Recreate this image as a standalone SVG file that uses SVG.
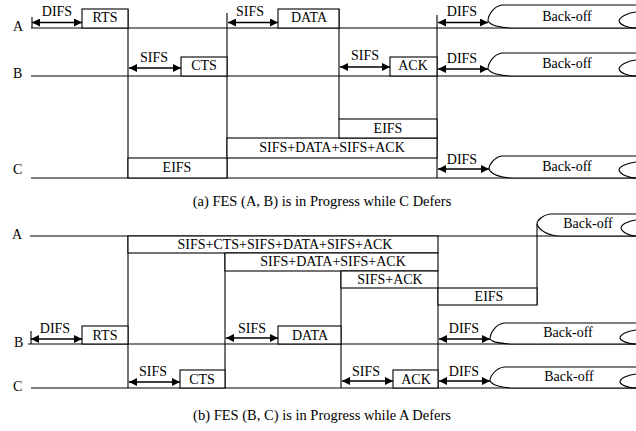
<svg xmlns="http://www.w3.org/2000/svg" width="636" height="431" viewBox="0 0 636 431" font-family="'Liberation Serif', 'DejaVu Serif', 'Times New Roman', serif" font-size="14">
<style>
.ln{stroke:#000;stroke-width:1.1;fill:none}
.box{fill:#fff;stroke:#000;stroke-width:1.1}
.bo{fill:#fff;stroke:#000;stroke-width:1.1}
.arr{stroke:#000;stroke-width:1.3;fill:none;marker-start:url(#ah);marker-end:url(#ah)}
text{font-family:'Liberation Serif','DejaVu Serif','Times New Roman',serif;font-size:14px;fill:#000}
.c{text-anchor:middle}
.cap{font-size:14.5px}
</style>
<defs>
<marker id="ah" viewBox="0 0 10 10" refX="10" refY="5" markerWidth="9" markerHeight="8" markerUnits="userSpaceOnUse" orient="auto-start-reverse">
<path d="M0,0 L10,5 L0,10 z" fill="#000"/>
</marker>
</defs>
<rect width="636" height="431" fill="#fff"/>

<!-- ===== (a) ===== -->
<g id="a-station-lines">
<line class="ln" x1="31" y1="28" x2="636" y2="28"/>
<line class="ln" x1="31" y1="76" x2="636" y2="76"/>
<line class="ln" x1="31" y1="178" x2="636" y2="178"/>
<text x="13" y="31">A</text>
<text x="13" y="78">B</text>
<text x="13" y="174">C</text>
</g>
<g id="a-boundaries">
<line class="ln" x1="128" y1="9" x2="128" y2="178"/>
<line class="ln" x1="227" y1="13" x2="227" y2="178"/>
<line class="ln" x1="339" y1="9" x2="339" y2="119"/>
<line class="ln" x1="437" y1="15" x2="437" y2="178"/>
<line class="ln" x1="32" y1="17" x2="32" y2="28"/>
</g>
<g id="a-rts"><rect class="box" x="82" y="9" width="46" height="19"/><text class="c" x="105" y="22">RTS</text></g>
<g id="a-cts"><rect class="box" x="181" y="57" width="46" height="19"/><text class="c" x="204" y="70">CTS</text></g>
<g id="a-data"><rect class="box" x="278" y="9" width="61" height="19"/><text class="c" x="309" y="22">DATA</text></g>
<g id="a-ack"><rect class="box" x="390" y="57" width="47" height="19"/><text class="c" x="413" y="70">ACK</text></g>
<g id="a-eifs-c"><rect class="box" x="128" y="158" width="99" height="20"/><text class="c" x="177" y="172">EIFS</text></g>
<g id="a-nav"><rect class="box" x="227" y="138" width="210" height="20"/><text class="c" x="332" y="152">SIFS+DATA+SIFS+ACK</text></g>
<g id="a-eifs-up"><rect class="box" x="339" y="119" width="98" height="19"/><text class="c" x="388" y="133">EIFS</text></g>
<g id="a-backoff-a">
<path class="bo" d="M636,5 L502,5 C494,6 488,15 488,21 C490,25 500,28 512,28 L636,28"/>
<path class="ln" d="M636,12 C626,13 619,18 619,21 C620,25 628,28 636,28"/>
<text class="c" x="567" y="21">Back-off</text>
</g>
<g id="a-backoff-b">
<path class="bo" d="M636,53 L502,53 C494,54 488,63 488,69 C490,73 500,76 512,76 L636,76"/>
<path class="ln" d="M636,60 C626,61 619,66 619,69 C620,73 628,76 636,76"/>
<text class="c" x="567" y="68">Back-off</text>
</g>
<g id="a-backoff-c">
<path class="bo" d="M636,156 L502,156 C494,157 489,165 489,169 C491,174 500,178 512,178 L636,178"/>
<path class="ln" d="M636,162 C626,163 619,167 619,170 C620,174 628,178 636,178"/>
<text class="c" x="567" y="171">Back-off</text>
</g>
<g id="a-connectors">
<line class="arr" x1="32" y1="22.5" x2="82" y2="22.5"/>
<line class="arr" x1="129" y1="68" x2="181" y2="68"/>
<line class="arr" x1="228" y1="22.5" x2="278" y2="22.5"/>
<line class="arr" x1="340" y1="67" x2="390" y2="67"/>
<line class="arr" x1="438" y1="22.5" x2="488" y2="22.5"/>
<line class="arr" x1="438" y1="69" x2="488" y2="69"/>
<line class="arr" x1="438" y1="169" x2="489" y2="169"/>
<text class="c" x="57" y="16">DIFS</text>
<text class="c" x="154" y="62">SIFS</text>
<text class="c" x="250" y="16">SIFS</text>
<text class="c" x="365" y="60">SIFS</text>
<text class="c" x="462" y="16">DIFS</text>
<text class="c" x="462" y="63">DIFS</text>
<text class="c" x="462" y="164">DIFS</text>
</g>
<text class="c cap" x="322" y="206">(a) FES (A, B) is in Progress while C Defers</text>

<!-- ===== (b) ===== -->
<g id="b-station-lines">
<line class="ln" x1="30" y1="236" x2="636" y2="236"/>
<line class="ln" x1="28" y1="344" x2="636" y2="344"/>
<line class="ln" x1="31" y1="388" x2="636" y2="388"/>
<text x="12" y="239">A</text>
<text x="14" y="347">B</text>
<text x="13" y="391">C</text>
</g>
<g id="b-boundaries">
<line class="ln" x1="128" y1="236" x2="128" y2="388"/>
<line class="ln" x1="225" y1="253" x2="225" y2="388"/>
<line class="ln" x1="341" y1="271" x2="341" y2="388"/>
<line class="ln" x1="438" y1="288" x2="438" y2="388"/>
<line class="ln" x1="537" y1="224" x2="537" y2="305"/>
<line class="ln" x1="31" y1="331" x2="31" y2="344"/>
</g>
<g id="b-nav1"><rect class="box" x="128" y="236" width="310" height="17"/><text class="c" x="285" y="249">SIFS+CTS+SIFS+DATA+SIFS+ACK</text></g>
<g id="b-nav2"><rect class="box" x="225" y="253" width="213" height="18"/><text class="c" x="333" y="266">SIFS+DATA+SIFS+ACK</text></g>
<g id="b-nav3"><rect class="box" x="341" y="271" width="97" height="17"/><text class="c" x="390" y="284">SIFS+ACK</text></g>
<g id="b-eifs"><rect class="box" x="438" y="288" width="99" height="17"/><text class="c" x="489" y="301">EIFS</text></g>
<g id="b-rts"><rect class="box" x="82" y="326" width="46" height="18"/><text class="c" x="105" y="340">RTS</text></g>
<g id="b-cts"><rect class="box" x="180" y="370" width="45" height="18"/><text class="c" x="202" y="384">CTS</text></g>
<g id="b-data"><rect class="box" x="278" y="326" width="63" height="18"/><text class="c" x="310" y="340">DATA</text></g>
<g id="b-ack"><rect class="box" x="393" y="370" width="45" height="18"/><text class="c" x="416" y="384">ACK</text></g>
<g id="b-backoff-a">
<path class="bo" d="M636,214 L550,214 C542,215 537,221 537,224 C539,230 548,236 560,236 L636,236"/>
<path class="ln" d="M636,220 C627,221 621,225 621,228 C622,232 629,236 636,236"/>
<text class="c" x="588" y="228">Back-off</text>
</g>
<g id="b-backoff-b">
<path class="bo" d="M636,323 L504,323 C496,324 490,333 490,339 C492,342 502,344 514,344 L636,344"/>
<path class="ln" d="M636,330 C626,331 620,335 620,338 C621,341 628,344 636,344"/>
<text class="c" x="568" y="337">Back-off</text>
</g>
<g id="b-backoff-c">
<path class="bo" d="M636,367 L504,367 C496,368 490,376 490,381 C492,385 502,388 514,388 L636,388"/>
<path class="ln" d="M636,374 C626,375 620,379 620,382 C621,385 628,388 636,388"/>
<text class="c" x="569" y="381">Back-off</text>
</g>
<g id="b-connectors">
<line class="arr" x1="31" y1="339" x2="82" y2="339"/>
<line class="arr" x1="129" y1="382" x2="180" y2="382"/>
<line class="arr" x1="226" y1="338" x2="278" y2="338"/>
<line class="arr" x1="342" y1="381" x2="393" y2="381"/>
<line class="arr" x1="439" y1="339" x2="490" y2="339"/>
<line class="arr" x1="439" y1="381" x2="490" y2="381"/>
<text class="c" x="55" y="333">DIFS</text>
<text class="c" x="153" y="376">SIFS</text>
<text class="c" x="252" y="333">SIFS</text>
<text class="c" x="366" y="376">SIFS</text>
<text class="c" x="464" y="333">DIFS</text>
<text class="c" x="464" y="376">DIFS</text>
</g>
<text class="c cap" x="322" y="420">(b) FES (B, C) is in Progress while A Defers</text>
</svg>
